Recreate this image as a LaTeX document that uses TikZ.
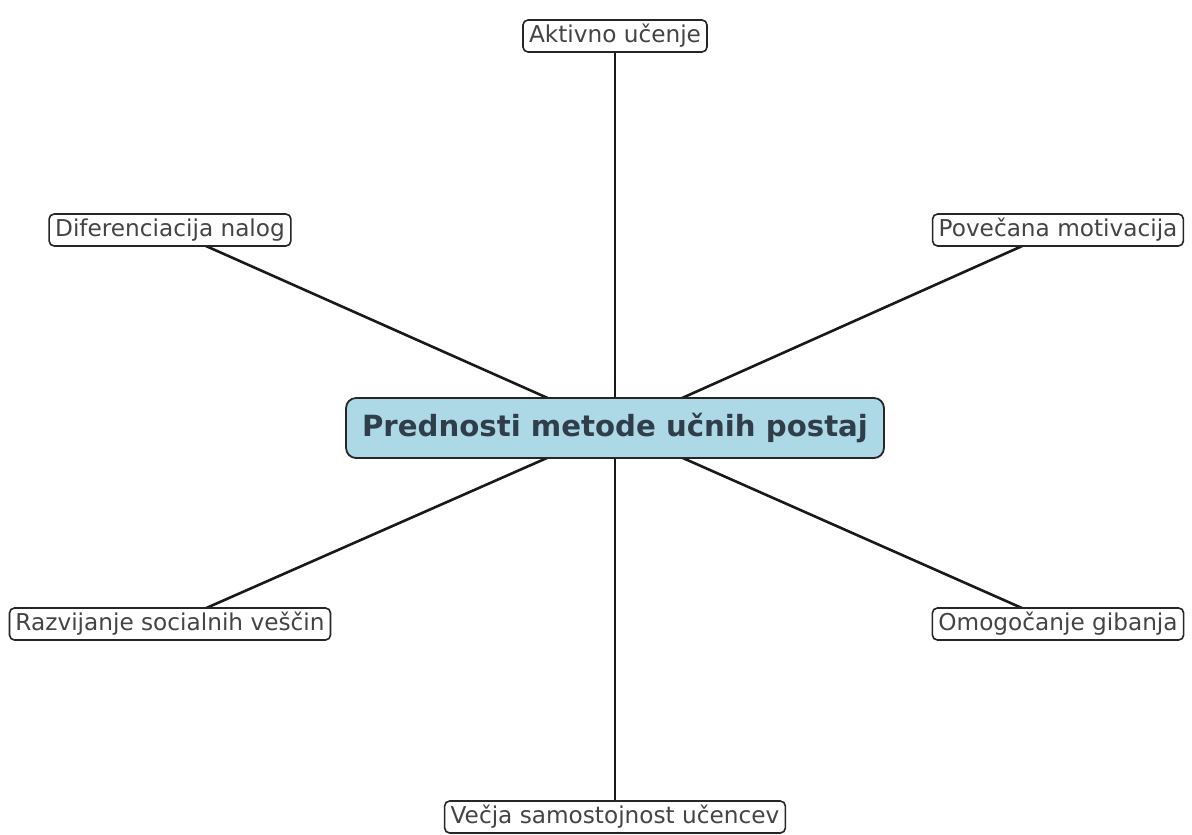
\documentclass[tikz,border=0pt]{standalone}
\usepackage{fontspec}
\setmainfont{DejaVu Sans}
\usetikzlibrary{backgrounds}
\definecolor{hubfill}{HTML}{ADD8E6}
\definecolor{hubtext}{HTML}{2F3E4A}
\definecolor{leaftext}{HTML}{444444}
\tikzset{
  hub/.style={draw=black!85,line width=0.9pt,fill=hubfill,rounded corners=5pt,
    minimum height=30pt,inner xsep=8pt,text=hubtext,font=\bfseries\fontsize{14.6}{17}\selectfont},
  leaf/.style={draw=black!85,line width=0.8pt,fill=white,rounded corners=2.5pt,
    minimum height=16pt,inner xsep=3pt,inner ysep=1pt,text=leaftext,font=\fontsize{11.6}{13}\selectfont},
  spoke/.style={line width=1.3pt,black!90}
}
\begin{document}
\begin{tikzpicture}[x=0.5pt,y=-0.5pt]
  \clip (0,0) rectangle (1192,834);
  \node[hub] (hub) at (615,428) {Prednosti metode učnih postaj};
  \node[leaf] (aktiv) at (615,36) {Aktivno učenje};
  \node[leaf] (diff) at (170,230) {Diferenciacija nalog};
  \node[leaf] (motiv) at (1058,230) {Povečana motivacija};
  \node[leaf] (social) at (170,624) {Razvijanje socialnih veščin};
  \node[leaf] (gib) at (1058,624) {Omogočanje gibanja};
  \node[leaf] (samost) at (615,817) {Večja samostojnost učencev};
  \begin{scope}[on background layer]
    \foreach \n in {aktiv,diff,motiv,social,gib,samost}
      \draw[spoke] (hub.center)--(\n.center);
  \end{scope}
\end{tikzpicture}
\end{document}
